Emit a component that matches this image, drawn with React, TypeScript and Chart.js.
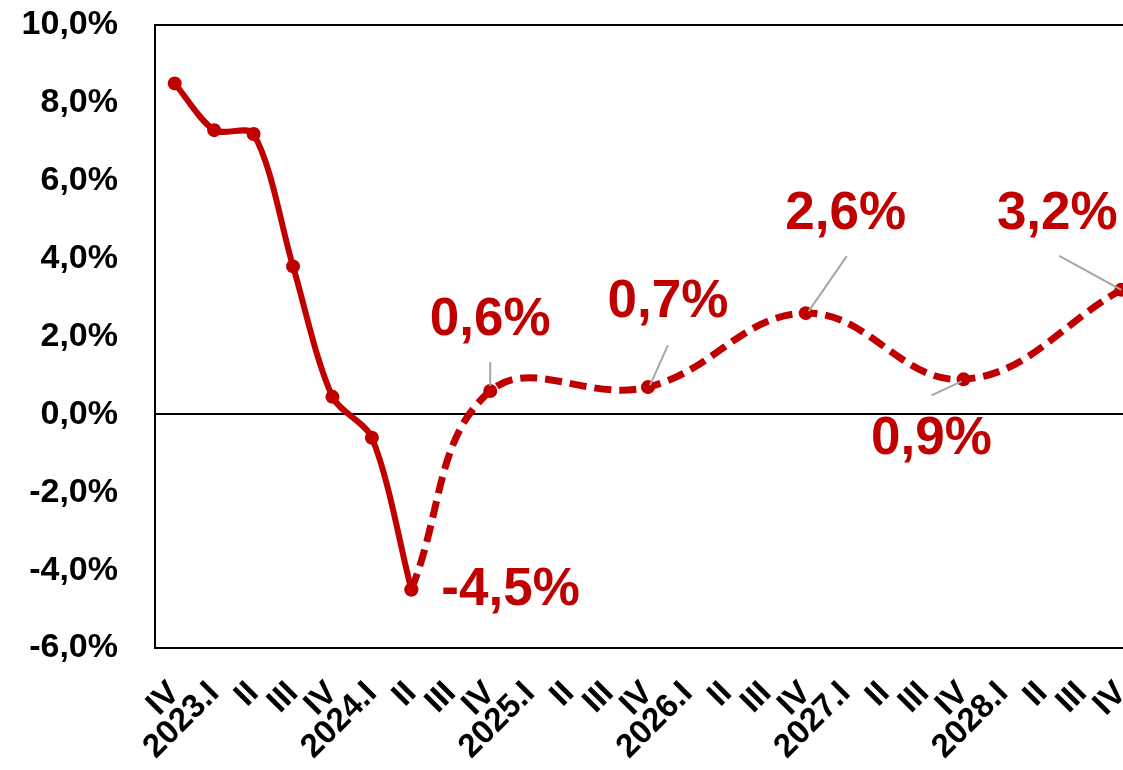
import React, { useEffect, useRef } from "react";
import { Chart, registerables } from "chart.js";

Chart.register(...registerables);

// ---- data ----
const categories: string[] = [
  "IV", "2023.I", "II", "III", "IV",
  "2024.I", "II", "III", "IV",
  "2025.I", "II", "III", "IV",
  "2026.I", "II", "III", "IV",
  "2027.I", "II", "III", "IV",
  "2028.I", "II", "III", "IV",
];

const actualValues: (number | null)[] = [
  8.5, 7.3, 7.2, 3.8, 0.45, -0.6, -4.5,
  null, null, null, null, null, null, null, null, null, null, null,
  null, null, null, null, null, null, null,
];

const forecastValues: (number | null)[] = [
  null, null, null, null, null, null, -4.5,
  null, 0.6, null, null, null, 0.7,
  null, null, null, 2.6,
  null, null, null, 0.9,
  null, null, null, 3.2,
];

const yMin = -6;
const yMax = 10;
const yStep = 2;

const labelledIndices: number[] = [6, 8, 12, 16, 20, 24];

// ---- style (label placement, pixel offsets from the point) ----
const RED = "#C00000";
const labelStyle: Record<number, { dx: number; dy: number; align: CanvasTextAlign; leader?: [number, number, number, number] }> = {
  6: { dx: 30, dy: 1, align: "left" },
  8: { dx: 0, dy: -71, align: "center", leader: [0, -29, 0, -5] },
  12: { dx: 20, dy: -85, align: "center", leader: [20, -42, 2, -2] },
  16: { dx: 40, dy: -99, align: "center", leader: [41, -57, 3, -2] },
  20: { dx: -32, dy: 60, align: "center", leader: [-32, 16, -2, 2] },
  24: { dx: -64, dy: -75, align: "center", leader: [-62, -34, 0, 0] },
};

const fmt = (v: number) => v.toFixed(1).replace(".", ",") + "%";

const framePlugin = {
  id: "frame",
  beforeDatasetsDraw(chart: any) {
    const { ctx, chartArea } = chart;
    const y = chart.scales.y;
    ctx.save();
    ctx.strokeStyle = "#000";
    ctx.lineWidth = 2;
    ctx.strokeRect(chartArea.left, chartArea.top, chartArea.right - chartArea.left, chartArea.bottom - chartArea.top);
    const y0 = Math.round(y.getPixelForValue(0));
    ctx.beginPath();
    ctx.moveTo(chartArea.left, y0);
    ctx.lineTo(chartArea.right, y0);
    ctx.stroke();
    ctx.restore();
  },
  afterDatasetsDraw(chart: any) {
    const { ctx } = chart;
    const xs = chart.scales.x;
    const ys = chart.scales.y;
    ctx.save();
    for (const i of labelledIndices) {
      const v = (actualValues[i] ?? forecastValues[i]) as number;
      const px = xs.getPixelForValue(i);
      const py = ys.getPixelForValue(v);
      const st = labelStyle[i];
      if (st.leader) {
        ctx.strokeStyle = "#A6A6A6";
        ctx.lineWidth = 2;
        ctx.beginPath();
        ctx.moveTo(px + st.leader[0], py + st.leader[1]);
        ctx.lineTo(px + st.leader[2], py + st.leader[3]);
        ctx.stroke();
      }
      ctx.fillStyle = RED;
      ctx.font = "bold 53px 'Liberation Sans', Arial, sans-serif";
      ctx.textAlign = st.align;
      ctx.textBaseline = "middle";
      ctx.fillText(fmt(v), px + st.dx, py + st.dy);
    }
    ctx.restore();
  },
};

export default function App() {
  const ref = useRef<HTMLCanvasElement | null>(null);
  useEffect(() => {
    if (!ref.current) return;
    const chart = new Chart(ref.current, {
      type: "line",
      data: {
        labels: categories,
        datasets: [
          {
            data: actualValues,
            borderColor: RED,
            backgroundColor: RED,
            borderWidth: 6,
            pointRadius: 7,
            pointBorderWidth: 0,
            pointBackgroundColor: RED,
            tension: 0.3,
            spanGaps: false,
            borderCapStyle: "round",
            borderJoinStyle: "round",
          },
          {
            data: forecastValues,
            borderColor: RED,
            backgroundColor: RED,
            borderWidth: 7,
            borderDash: [17, 8],
            pointRadius: 7,
            pointBorderWidth: 0,
            pointBackgroundColor: RED,
            tension: 0.4,
            spanGaps: true,
          },
        ],
      },
      options: {
        animation: false,
        responsive: false,
        maintainAspectRatio: false,
        layout: { padding: { top: 25, left: 0, right: 0, bottom: 0 } },
        plugins: { legend: { display: false }, tooltip: { enabled: false } },
        scales: {
          x: {
            offset: true,
            grid: { display: false, drawTicks: false },
            border: { display: false },
            ticks: {
              autoSkip: false,
              minRotation: 45,
              maxRotation: 45,
              padding: 26,
              color: "#000",
              font: { family: "'Liberation Sans', Arial, sans-serif", size: 33, weight: "bold" },
            },
            afterFit(scale: any) {
              scale.height = 122;
              scale.paddingLeft = 0;
              scale.paddingRight = 0;
            },
          },
          y: {
            min: yMin,
            max: yMax,
            grid: { display: false, drawTicks: false },
            border: { display: false },
            ticks: {
              stepSize: yStep,
              padding: 37,
              color: "#000",
              font: { family: "'Liberation Sans', Arial, sans-serif", size: 34, weight: "bold" },
              callback: (v: any) => fmt(Number(v)),
            },
            afterFit(scale: any) {
              scale.width = 155;
              scale.paddingTop = 0;
              scale.paddingBottom = 0;
            },
          },
        },
      },
      plugins: [framePlugin],
    });
    return () => chart.destroy();
  }, []);
  return (
    <div style={{ position: "fixed", left: 0, top: 0, width: 1123, height: 770, overflow: "hidden", background: "#fff" }}>
      <canvas ref={ref} width={1148} height={770} style={{ display: "block" }} />
    </div>
  );
}
